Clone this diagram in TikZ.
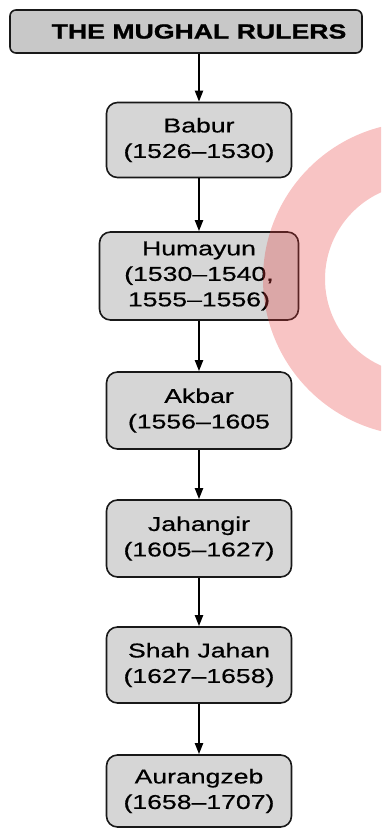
\documentclass[tikz,border=0pt]{standalone}
\usepackage{fontspec}
\setmainfont{Liberation Sans}
\newfontfamily\boxfont[FakeStretch=1.33,FakeBold=0.6]{Liberation Sans}
\newfontfamily\titlefont[FakeStretch=1.3,FakeBold=1.2]{Liberation Sans Bold}
\usetikzlibrary{arrows.meta}
\definecolor{boxgray}{RGB}{214,214,214}
\definecolor{titlegray}{RGB}{200,200,200}
\definecolor{ringpink}{RGB}{232,60,60}
\tikzset{
  ruler/.style={draw=black!90, line width=1.6bp, fill=boxgray, rounded corners=11bp,
    minimum width=185bp, minimum height=75bp, align=center, inner sep=0pt,
    font=\boxfont\fontsize{20bp}{25.5bp}\selectfont},
  titlebox/.style={draw=black!90, line width=1.6bp, fill=titlegray, rounded corners=6bp,
    minimum width=352bp, minimum height=43bp, inner sep=0pt,
    font=\titlefont\fontsize{20.5bp}{24bp}\selectfont},
  link/.style={line width=2bp, -{Triangle[length=11bp,width=8bp]}}
}
\begin{document}
\begin{tikzpicture}[x=1bp,y=-1bp]
\useasboundingbox (0,0) rectangle (381,829);
\node[titlebox] (title) at (186,31.5) {\hspace*{26bp}THE MUGHAL RULERS};
\node[ruler] (babur) at (199,140) {Babur\\(1526–1530)};
\node[ruler, minimum width=199bp, minimum height=88bp] (humayun) at (199,276) {Humayun\\(1530–1540,\\1555–1556)};
\node[ruler, minimum height=77bp] (akbar) at (199,410.5) {Akbar\\(1556–1605};
\node[ruler, minimum height=77bp] (jahangir) at (199,538.5) {Jahangir\\(1605–1627)};
\node[ruler, minimum height=76bp] (shahjahan) at (199,665) {Shah Jahan\\(1627–1658)};
\node[ruler, minimum height=72bp] (aurangzeb) at (199,791) {Aurangzeb\\(1658–1707)};
\draw[link] (title.south -| babur.north) -- (babur.north);
\draw[link] (babur.south) -- (humayun.north);
\draw[link] (humayun.south) -- (akbar.north);
\draw[link] (akbar.south) -- (jahangir.north);
\draw[link] (jahangir.south) -- (shahjahan.north);
\draw[link] (shahjahan.south) -- (aurangzeb.north);
% pink ring overlay
\begin{scope}
\clip (0,0) rectangle (381,829);
\fill[ringpink, fill opacity=0.3, even odd rule] (420,279) circle[radius=157] (420,279) circle[radius=95];
\end{scope}
\end{tikzpicture}
\end{document}
